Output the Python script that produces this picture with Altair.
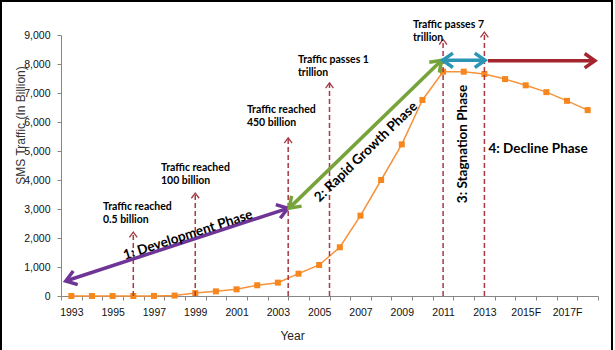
import math
import altair as alt
import pandas as pd

# ---- data ----
years = list(range(1993, 2019))
traffic = [0, 0, 0, 0.5, 2, 15, 100, 160, 230, 370, 460, 770, 1070, 1680, 2770,
           4000, 5230, 6760, 7735, 7735, 7655, 7480, 7265, 7030, 6730, 6410]

# milestone dashed arrows (x position in years, top value)
ms_x = [1996, 1999, 2003.5, 2005.5, 2011, 2013]
ms_top = [2200, 3550, 5450, 7350, 8850, 9100]

note_text = ["Traffic reached\n0.5 billion", "Traffic reached\n100 billion",
             "Traffic reached\n450 billion", "Traffic passes 1\ntrillion",
             "Traffic passes 7\ntrillion"]
note_x = [1994.53, 1997.34, 2001.5, 2003.97, 2009.54]
note_y = [3052, 4397, 6414, 8138, 9328]

phase_text = ["1: Development Phase", "2: Rapid Growth Phase",
              "3: Stagnation Phase", "4: Decline Phase"]
phase_x = [1998.65, 2007.27, 2011.96, 2015.6]
phase_y = [2103, 4966, 5241, 5069]
phase_angle = [342, 316, 270, 0]

arrow_x1 = [1992.73, 2003.55, 2010.98, 2013.17]
arrow_y1 = [517, 3030, 8128, 8114]
arrow_x2 = [2003.48, 2010.93, 2013.03, 2018.35]
arrow_y2 = [3024, 8128, 8128, 8114]
arrow_color = ["#6E3596", "#76A33A", "#2A96B3", "#A3262F"]
arrow_both = [True, True, True, False]

W, H = 537, 261
X0, X1 = 1992.5, 2018.5
Y0, Y1 = 0, 9000
pxx = W / (X1 - X0)
pxy = H / (Y1 - Y0)

# ---- tables ----
base = pd.DataFrame({"year": years, "traffic": traffic})
ms = pd.DataFrame({"x": ms_x, "top": ms_top, "y0": [0] * len(ms_x)})
notes = pd.DataFrame({"x": note_x, "y": note_y, "t": note_text})
phases = pd.DataFrame({"x": phase_x, "y": phase_y, "t": phase_text, "a": phase_angle})
arrows = pd.DataFrame({"x": arrow_x1, "y": arrow_y1, "x2": arrow_x2, "y2": arrow_y2,
                       "c": arrow_color})
heads = []
for x1, y1, x2, y2, c, both in zip(arrow_x1, arrow_y1, arrow_x2, arrow_y2, arrow_color, arrow_both):
    dx = (x2 - x1) * pxx
    dy = (y2 - y1) * pxy
    ang = math.degrees(math.atan2(dx, dy)) % 360
    heads.append({"x": x2, "y": y2, "a": ang, "c": c})
    if both:
        heads.append({"x": x1, "y": y1, "a": (ang + 180) % 360, "c": c})
heads = pd.DataFrame(heads)

xscale = alt.Scale(domain=[X0, X1], nice=False, zero=False)
yscale = alt.Scale(domain=[Y0, Y1], nice=False)

label_expr = ("(datum.value + 0.5) % 2 == 1 && datum.value < 2018 ? "
              "((datum.value + 0.5) >= 2015 ? (datum.value + 0.5) + 'F' : '' + (datum.value + 0.5)) : ''")

xaxis = alt.Axis(values=[X0 + i for i in range(27)], labelExpr=label_expr,
                 labelOffset=pxx / 2, labelOverlap=False, labelFlush=False, labelBound=False,
                 tickSize=4, tickColor="#868686", domainColor="#868686", grid=False,
                 labelFont="Liberation Sans", labelFontSize=10.5, labelColor="#111111",
                 labelPadding=7, title="Year", titleFont="Liberation Sans",
                 titleFontSize=12, titleFontWeight="normal", titleColor="#222222",
                 titleX=231, titleY=39, titleBaseline="middle")
yaxis = alt.Axis(values=list(range(0, 9001, 1000)), labelExpr="format(datum.value, ',')",
                 tickSize=4, labelOverlap=False, labelFlush=False,
                 tickColor="#868686", domainColor="#868686", grid=False,
                 labelFont="Liberation Sans", labelFontSize=10.5, labelColor="#111111",
                 labelPadding=7, title="SMS Traffic (In Billion)", titleFont="Liberation Sans",
                 titleFontSize=12, titleFontWeight="normal", titleColor="#333333",
                 titleX=-41, titleY=90, titleAlign="center", titleBaseline="middle",
                 titleAngle=270)


def X(field):
    return alt.X(field, type="quantitative", scale=xscale, axis=xaxis, title="Year")


def Y(field):
    return alt.Y(field, type="quantitative", scale=yscale, axis=yaxis,
                 title="SMS Traffic (In Billion)")


line = alt.Chart(base).mark_line(color="#F7923A", strokeWidth=1.5).encode(
    x=X("year"), y=Y("traffic"),
)
pts = alt.Chart(base).mark_point(shape="square", filled=True, size=36,
                                 color="#F7861C", opacity=1).encode(
    x=X("year"), y=Y("traffic"),
)

dashed = alt.Chart(ms).mark_rule(color="#A63A45", strokeWidth=1.5, strokeDash=[5, 3]).encode(
    x=X("x"), y=Y("y0"), y2="top:Q",
)
dhead = alt.Chart(ms).mark_point(shape="M-0.6,0.8 L0,0 L0.6,0.8", filled=False, size=170,
                                 color="#A63A45", strokeWidth=1.3, opacity=1).encode(
    x=X("x"), y=Y("top"),
)

arr = alt.Chart(arrows).mark_rule(strokeWidth=3.5).encode(
    x=X("x"), y=Y("y"), x2="x2:Q", y2="y2:Q",
    color=alt.Color("c:N", scale=None),
)
ahead = alt.Chart(heads).mark_point(shape="M-0.7,1 L0,0 L0.7,1", filled=False, size=420,
                                    strokeWidth=3.5, opacity=1, strokeJoin="miter").encode(
    x=X("x"), y=Y("y"),
    angle=alt.Angle("a:Q", scale=None),
    stroke=alt.Color("c:N", scale=None),
)

note = alt.Chart(notes).mark_text(font="Lato", fontWeight="bold", fontSize=10.5,
                                  align="left", baseline="middle", lineBreak="\n",
                                  lineHeight=13, color="#000000").encode(
    x=X("x"), y=Y("y"), text="t:N",
)
phase = alt.Chart(phases).mark_text(font="Lato", fontWeight="bold", fontSize=13.5,
                                    align="center", baseline="middle", color="#000000").encode(
    x=X("x"), y=Y("y"), text="t:N",
    angle=alt.Angle("a:Q", scale=None),
)

frame = alt.Chart(base).mark_rect(fill=None, stroke="#000000", strokeWidth=2).encode(
    x=alt.value(-60), x2=alt.value(551), y=alt.value(-34), y2=alt.value(330),
)

chart = alt.layer(line, pts, dashed, dhead, arr, ahead, note, phase, frame).properties(
    width=W, height=H,
    autosize=alt.AutoSizeParams(type="none"),
    padding={"left": 61, "top": 35, "right": 17, "bottom": 54},
    background="white",
).configure_view(stroke=None)

chart.save("out.html", embed_options={"renderer": "svg", "actions": False})
